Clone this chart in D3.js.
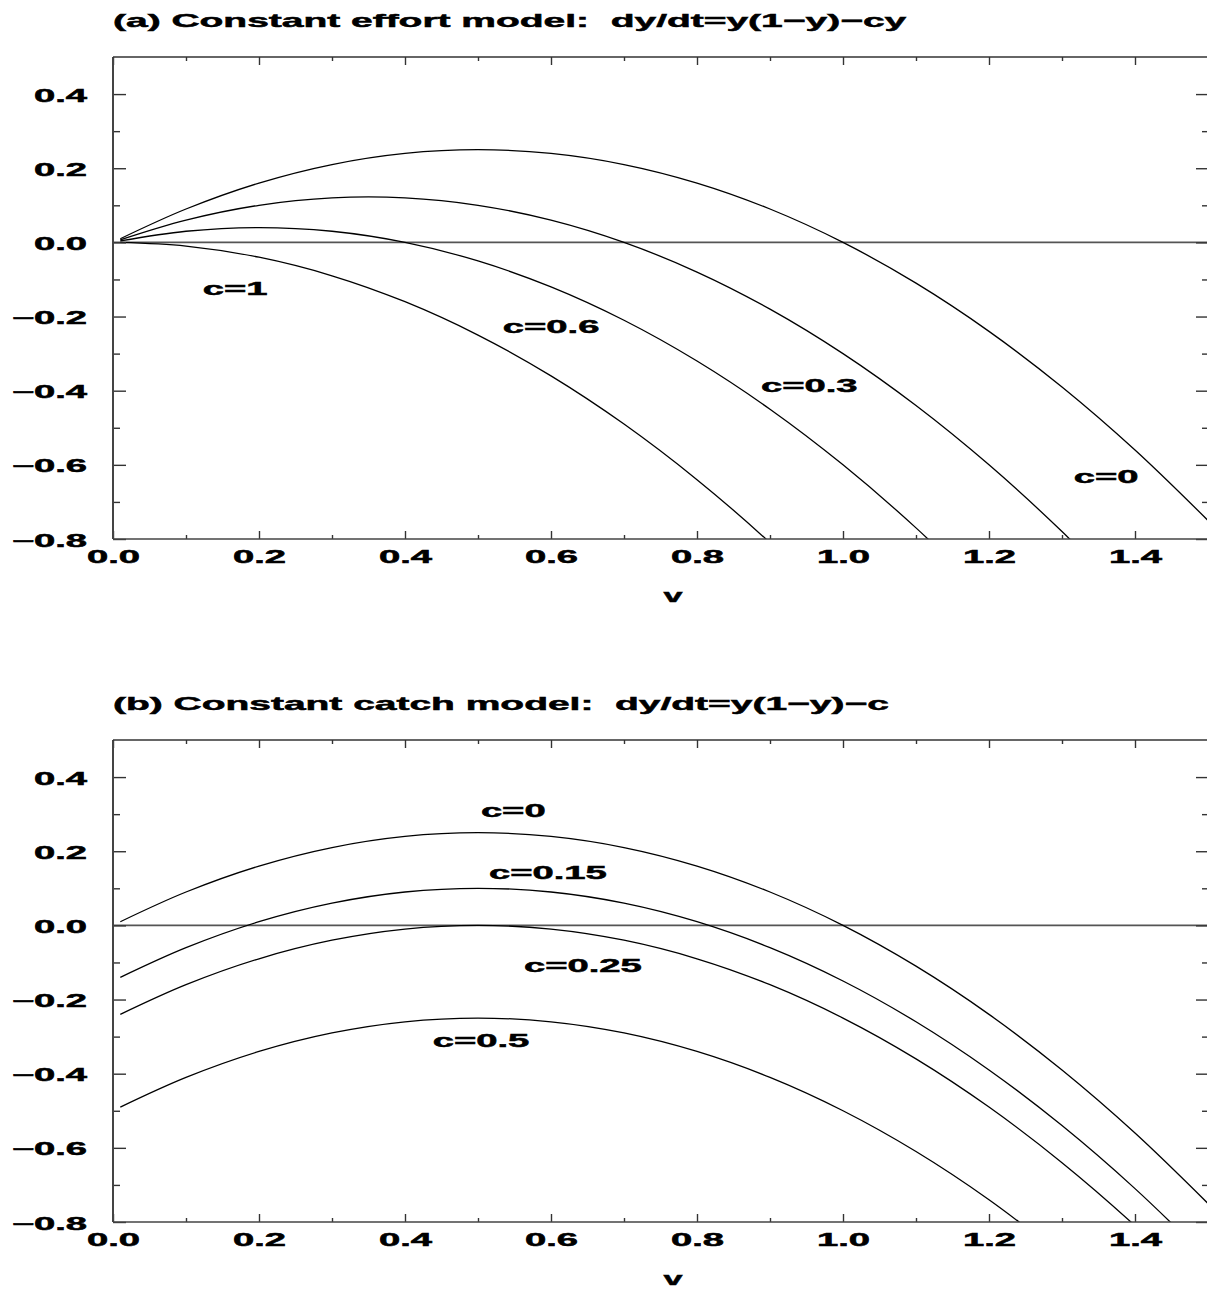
<!DOCTYPE html>
<html>
<head>
<meta charset="utf-8">
<script src="https://cdn.jsdelivr.net/npm/d3@7/dist/d3.min.js"></script>
<style>
  html, body { margin: 0; padding: 0; background: #fff; }
  svg { display: block; }
  text { font-family: "Liberation Sans", Arial, Helvetica, sans-serif; font-weight: bold; fill: #000;
         stroke: #000; stroke-width: 0.5px; white-space: pre; }
</style>
</head>
<body>
<svg id="chart" width="1207" height="1289"></svg>
<script>
// ---------------- DATA ----------------
const xValues = [0.01, 0.1, 0.2, 0.3, 0.4, 0.5, 0.6, 0.7, 0.8, 0.9, 1.0, 1.1, 1.2, 1.3, 1.4, 1.5];

// Panel (a): constant effort
const effortC0   = [0.0099, 0.09, 0.16, 0.21, 0.24, 0.25, 0.24, 0.21, 0.16, 0.09, 0.00, -0.11, -0.24, -0.39, -0.56, -0.75];
const effortC03  = [0.0069, 0.06, 0.10, 0.12, 0.12, 0.10, 0.06, 0.00, -0.08, -0.18, -0.30, -0.44, -0.60, -0.78, -0.98];
const effortC06  = [0.0039, 0.03, 0.04, 0.03, 0.00, -0.05, -0.12, -0.21, -0.32, -0.45, -0.60, -0.77, -0.96];
const effortC1   = [-0.0001, -0.01, -0.04, -0.09, -0.16, -0.25, -0.36, -0.49, -0.64, -0.81, -1.00];

// Panel (b): constant catch
const catchC0    = [0.0099, 0.09, 0.16, 0.21, 0.24, 0.25, 0.24, 0.21, 0.16, 0.09, 0.00, -0.11, -0.24, -0.39, -0.56, -0.75];
const catchC015  = [-0.1401, -0.06, 0.01, 0.06, 0.09, 0.10, 0.09, 0.06, 0.01, -0.06, -0.15, -0.26, -0.39, -0.54, -0.71, -0.90];
const catchC025  = [-0.2401, -0.16, -0.09, -0.04, -0.01, 0.00, -0.01, -0.04, -0.09, -0.16, -0.25, -0.36, -0.49, -0.64, -0.81, -1.00];
const catchC05   = [-0.4901, -0.41, -0.34, -0.29, -0.26, -0.25, -0.26, -0.29, -0.34, -0.41, -0.50, -0.61, -0.74, -0.89];

const effortLabels = ["c=0", "c=0.3", "c=0.6", "c=1"];
const catchLabels  = ["c=0", "c=0.15", "c=0.25", "c=0.5"];

const xMajorTicks = [0, 0.2, 0.4, 0.6, 0.8, 1.0, 1.2, 1.4];
const xMinorTicks = [0.1, 0.3, 0.5, 0.7, 0.9, 1.1, 1.3, 1.5];
const xTickLabels = ["0.0", "0.2", "0.4", "0.6", "0.8", "1.0", "1.2", "1.4"];
const yMajorTicks = [-0.8, -0.6, -0.4, -0.2, 0.0, 0.2, 0.4];
const yMinorTicks = [-0.7, -0.5, -0.3, -0.1, 0.1, 0.3];
const yTickLabels = ["\u22120.8", "\u22120.6", "\u22120.4", "\u22120.2", "0.0", "0.2", "0.4"];

const titles = [
  "(a) Constant effort model:  dy/dt=y(1\u2212y)\u2212cy",
  "(b) Constant catch model:  dy/dt=y(1\u2212y)\u2212c"
];
const xAxisTitle = "v";

// ---------------- LAYOUT ----------------
const svg = d3.select("#chart");
const left = 113, right = 1208;
const panels = [
  { top: 57,  bottom: 539,
    series: [effortC0, effortC03, effortC06, effortC1], labels: effortLabels,
    labelPos: [[1.316, -0.649], [0.8877, -0.403], [0.534, -0.244], [0.123, -0.142]] },
  { top: 740, bottom: 1222,
    series: [catchC0, catchC015, catchC025, catchC05], labels: catchLabels,
    labelPos: [[0.504, 0.292], [0.515, 0.125], [0.563, -0.126], [0.438, -0.328]] }
];

// stretched bold text helper (the reference typeface is very wide)
function stretch(sel, sx, anchor) {
  sel.each(function() {
    const t = d3.select(this);
    const a = anchor || "start";
    const x0 = +(t.attr("x") || 0);
    const w = this.getComputedTextLength();
    const target = w * sx;
    const shift = a === "middle" ? target / 2 : (a === "end" ? target : 0);
    t.attr("text-anchor", "start")
     .attr("x", x0 - shift)
     .attr("textLength", target)
     .attr("lengthAdjust", "spacingAndGlyphs");
  });
}

const x = d3.scaleLinear().domain([0, 1.5]).range([left, right]);

panels.forEach((p, i) => {
  const y = d3.scaleLinear().domain([-0.8, 0.5]).range([p.bottom, p.top]);
  const g = svg.append("g");

  const clipId = "clip" + i;
  svg.append("clipPath").attr("id", clipId)
    .append("rect").attr("x", left).attr("y", p.top)
    .attr("width", right - left).attr("height", p.bottom - p.top);

  // zero line
  g.append("line")
    .attr("x1", x(0)).attr("x2", x(1.5)).attr("y1", y(0)).attr("y2", y(0))
    .attr("stroke", "#555").attr("stroke-width", 1.6);

  // curves
  const line = d3.line()
    .x((d, k) => x(xValues[k]))
    .y(d => y(d))
    .curve(d3.curveCatmullRom.alpha(0.5));
  g.append("g").attr("clip-path", `url(#${clipId})`)
    .selectAll("path").data(p.series).join("path")
    .attr("d", d => line(d))
    .attr("fill", "none").attr("stroke", "#000").attr("stroke-width", 1.3);

  // axes (inward ticks)
  const styleAxis = a => {
    a.select(".domain").remove();
    a.attr("font-family", null).attr("font-size", null);
    a.selectAll(".tick line").attr("stroke", "#333").attr("stroke-width", 1.4);
  };
  const bottomMajor = g.append("g").attr("transform", `translate(0,${p.bottom})`)
    .call(d3.axisBottom(x).tickValues(xMajorTicks).tickSize(-8)
      .tickFormat((d, k) => xTickLabels[k]));
  styleAxis(bottomMajor);
  bottomMajor.selectAll("text")
    .attr("y", 24).attr("dy", 0).attr("font-size", 17.5).attr("fill", "#000")
    .call(stretch, 2.18, "middle");

  const bottomMinor = g.append("g").attr("transform", `translate(0,${p.bottom})`)
    .call(d3.axisBottom(x).tickValues(xMinorTicks).tickSize(-4).tickFormat(""));
  styleAxis(bottomMinor);

  const topMajor = g.append("g").attr("transform", `translate(0,${p.top})`)
    .call(d3.axisTop(x).tickValues(xMajorTicks).tickSize(-8).tickFormat(""));
  styleAxis(topMajor);
  const topMinor = g.append("g").attr("transform", `translate(0,${p.top})`)
    .call(d3.axisTop(x).tickValues(xMinorTicks).tickSize(-4).tickFormat(""));
  styleAxis(topMinor);

  const leftMajor = g.append("g").attr("transform", `translate(${left},0)`)
    .call(d3.axisLeft(y).tickValues(yMajorTicks).tickSize(-13)
      .tickFormat((d, k) => yTickLabels[k]));
  styleAxis(leftMajor);
  leftMajor.selectAll("text")
    .attr("x", -26).attr("dy", 7).attr("font-size", 17.5).attr("fill", "#000")
    .call(stretch, 2.18, "end");
  const leftMinor = g.append("g").attr("transform", `translate(${left},0)`)
    .call(d3.axisLeft(y).tickValues(yMinorTicks).tickSize(-7).tickFormat(""));
  styleAxis(leftMinor);

  const rightMajor = g.append("g").attr("transform", `translate(${right},0)`)
    .call(d3.axisRight(y).tickValues(yMajorTicks).tickSize(-12).tickFormat(""));
  styleAxis(rightMajor);
  const rightMinor = g.append("g").attr("transform", `translate(${right},0)`)
    .call(d3.axisRight(y).tickValues(yMinorTicks).tickSize(-6).tickFormat(""));
  styleAxis(rightMinor);

  // frame
  g.append("line").attr("x1", left).attr("x2", left).attr("y1", p.top).attr("y2", p.bottom)
    .attr("stroke", "#444").attr("stroke-width", 2);
  g.append("line").attr("x1", left).attr("x2", right).attr("y1", p.bottom).attr("y2", p.bottom)
    .attr("stroke", "#444").attr("stroke-width", 1.6);
  g.append("line").attr("x1", left).attr("x2", right).attr("y1", p.top).attr("y2", p.top)
    .attr("stroke", "#333").attr("stroke-width", 1.4);
  g.append("line").attr("x1", right).attr("x2", right).attr("y1", p.top).attr("y2", p.bottom)
    .attr("stroke", "#333").attr("stroke-width", 1.4);

  // curve labels
  g.selectAll("text.clabel").data(p.labels).join("text")
    .attr("class", "clabel")
    .attr("x", (d, k) => x(p.labelPos[k][0]))
    .attr("y", (d, k) => y(p.labelPos[k][1]))
    .attr("font-size", 18)
    .text(d => d)
    .call(stretch, 2.12, "start");

  // title
  g.append("text").attr("x", left).attr("y", p.top - 30)
    .attr("font-size", 19).text(titles[i])
    .call(stretch, 2.05, "start");

  // x axis title
  g.append("text").attr("x", 673).attr("y", p.bottom + 63)
    .attr("font-size", 19).text(xAxisTitle)
    .call(stretch, 1.8, "middle");
});
</script>
</body>
</html>
